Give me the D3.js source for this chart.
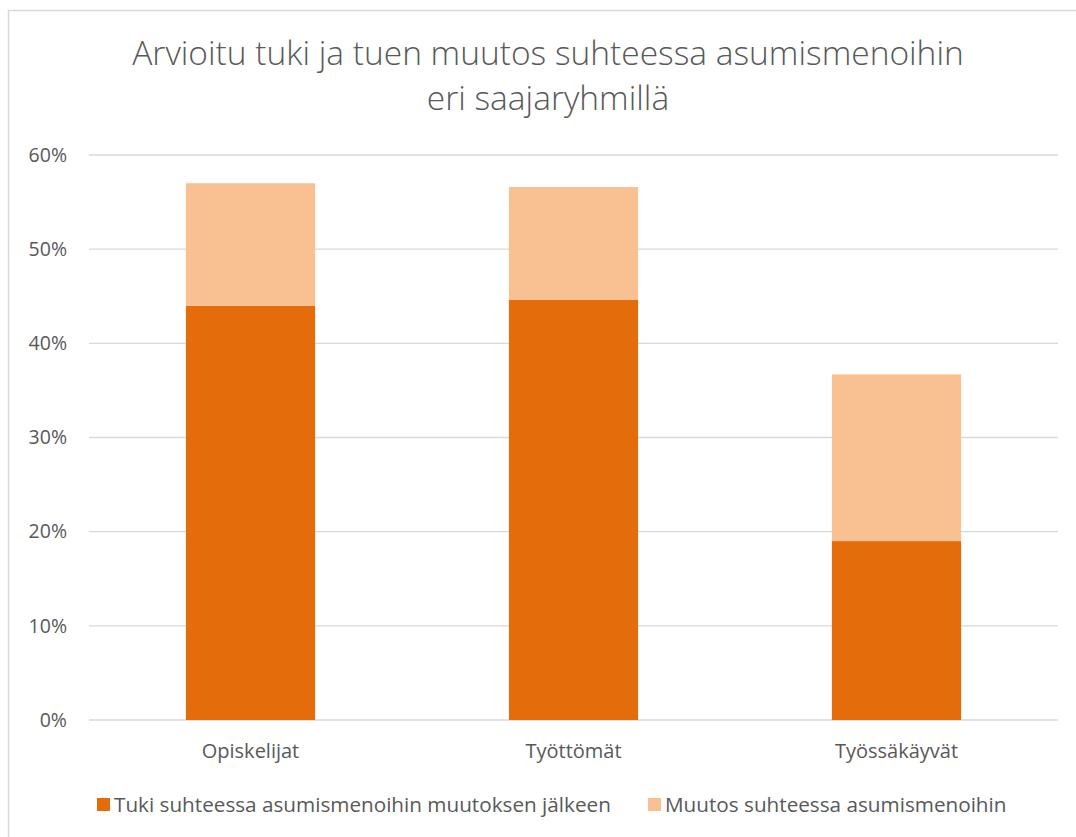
<!DOCTYPE html>
<html>
<head>
<meta charset="utf-8">
<script src="https://cdn.jsdelivr.net/npm/d3@7"></script>
<style>
  body { margin: 0; background: #fff; }
  svg { display: block; }
</style>
</head>
<body>
<svg id="chart"></svg>
<script>
// data
const categories = ["Opiskelijat", "Työttömät", "Työssäkäyvät"];
const tukiValues = [44.0, 44.6, 19.0];      // tuki suhteessa asumismenoihin muutoksen jälkeen
const muutosValues = [13.0, 12.0, 17.7];    // muutos suhteessa asumismenoihin
const seriesNames = ["Tuki suhteessa asumismenoihin muutoksen jälkeen", "Muutos suhteessa asumismenoihin"];
const seriesColors = ["#E46C0A", "#F9C091"];
const yTicks = [0, 10, 20, 30, 40, 50, 60];
const titleLines = ["Arvioitu tuki ja tuen muutos suhteessa asumismenoihin", "eri saajaryhmillä"];

const W = 1076, H = 837;
const margin = { top: 155, right: 18, bottom: 117, left: 89 };
const width = W - margin.left - margin.right;
const height = H - margin.top - margin.bottom;
const font = "'Open Sans', sans-serif";
const textColor = "#595959";

const svg = d3.select("#chart")
    .attr("width", W)
    .attr("height", H);

// chart border
svg.append("rect")
    .attr("x", 8.5).attr("y", 10.5)
    .attr("width", W).attr("height", H)
    .attr("fill", "none")
    .attr("stroke", "#d9d9d9")
    .attr("stroke-width", 1.5);

// title
svg.append("g").selectAll("text")
    .data(titleLines)
    .join("text")
    .attr("x", 548)
    .attr("y", (d, i) => 65 + i * 45)
    .attr("text-anchor", "middle")
    .attr("font-family", font)
    .attr("font-weight", 300)
    .attr("font-size", "33.5px")
    .attr("fill", textColor)
    .text(d => d);

const g = svg.append("g")
    .attr("transform", `translate(${margin.left}, ${margin.top})`);

const x = d3.scaleBand()
    .domain(categories)
    .range([0, width])
    .paddingInner(0.6)
    .paddingOuter(0.3);

const y = d3.scaleLinear()
    .domain([0, 60])
    .range([height, 0]);

// gridlines
g.append("g")
    .selectAll("line")
    .data(yTicks)
    .join("line")
    .attr("x1", 0).attr("x2", width)
    .attr("y1", d => y(d)).attr("y2", d => y(d))
    .attr("stroke", "#d9d9d9")
    .attr("stroke-width", 1.3);

// y axis labels
const yAxis = g.append("g")
    .attr("transform", "translate(-22, 0)")
    .call(d3.axisLeft(y).tickValues(yTicks).tickFormat(d => d + "%").tickSize(0).tickPadding(0));
yAxis.select(".domain").remove();
yAxis.selectAll("text")
    .attr("font-family", font)
    .attr("font-size", "19.5px")
    .attr("fill", textColor);

// stacked bars
const stacked = categories.map((c, i) => ({
    cat: c,
    parts: [
        { y0: 0, y1: tukiValues[i], color: seriesColors[0] },
        { y0: tukiValues[i], y1: tukiValues[i] + muutosValues[i], color: seriesColors[1] }
    ]
}));

g.selectAll(".bar")
    .data(stacked)
    .join("g")
    .attr("class", "bar")
    .selectAll("rect")
    .data(d => d.parts.map(p => ({ ...p, cat: d.cat })))
    .join("rect")
    .attr("x", d => x(d.cat))
    .attr("width", x.bandwidth())
    .attr("y", d => y(d.y1))
    .attr("height", d => y(d.y0) - y(d.y1))
    .attr("fill", d => d.color);

// x axis labels
const xAxis = g.append("g")
    .attr("transform", `translate(0, ${height})`)
    .call(d3.axisBottom(x).tickSize(0).tickPadding(24));
xAxis.select(".domain").remove();
xAxis.selectAll("text")
    .attr("font-family", font)
    .attr("font-size", "20px")
    .attr("fill", textColor);

// legend
const legendX = [97, 648];
const legend = svg.append("g")
    .attr("transform", "translate(0, 798)");

seriesNames.forEach((name, i) => {
    legend.append("rect")
        .attr("x", legendX[i])
        .attr("y", 0)
        .attr("width", 13).attr("height", 13)
        .attr("fill", seriesColors[i]);
    legend.append("text")
        .attr("x", legendX[i] + 17)
        .attr("y", 13.5)
        .attr("font-family", font)
        .attr("font-size", "20.7px")
        .attr("fill", textColor)
        .text(name);
});
</script>
</body>
</html>
